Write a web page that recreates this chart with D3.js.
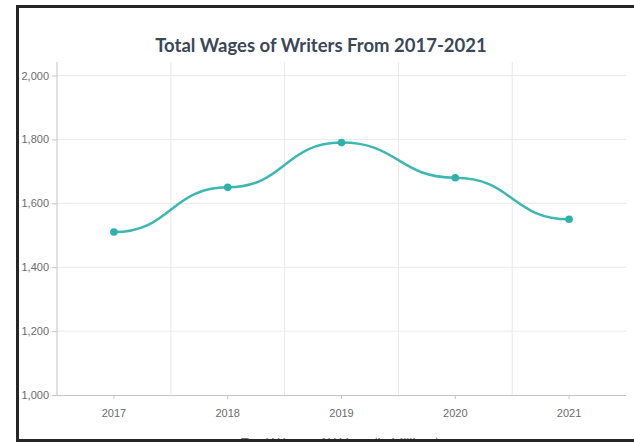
<!DOCTYPE html>
<html>
<head>
<meta charset="utf-8">
<script src="https://cdn.jsdelivr.net/npm/d3@7/dist/d3.min.js"></script>
<style>
  html, body { margin: 0; padding: 0; background: #fff; }
  svg { display: block; font-family: Lato, "Open Sans", sans-serif; }
</style>
</head>
<body>
<svg id="chart" width="634" height="442"></svg>
<script>
const years = ["2017", "2018", "2019", "2020", "2021"];
const wages = [1510, 1650, 1790, 1680, 1550];
const yTicks = [1000, 1200, 1400, 1600, 1800, 2000];
const chartTitle = "Total Wages of Writers From 2017-2021";
const xTitle = "Total Wages of Writers (in Millions)";

const svg = d3.select("#chart");
const W = 634, H = 442;
const pLeft = 57, pRight = 626, pTop = 62, pBottom = 395;

const x = d3.scaleBand().domain(years).range([pLeft, pRight]);
const y = d3.scaleLinear().domain([1000, 2000]).range([pBottom, 75.5]);

// grid
const grid = svg.append("g");
grid.selectAll("line.h").data(yTicks.slice(1)).join("line")
  .attr("x1", pLeft).attr("x2", pRight)
  .attr("y1", d => y(d)).attr("y2", d => y(d))
  .attr("stroke", "#e8e8e8").attr("stroke-width", 1);
grid.selectAll("line.v").data(years.slice(1)).join("line")
  .attr("x1", d => x(d)).attr("x2", d => x(d))
  .attr("y1", pTop).attr("y2", pBottom)
  .attr("stroke", "#e8e8e8").attr("stroke-width", 1);

// y axis
const yAxis = svg.append("g").attr("transform", `translate(${pLeft},0)`)
  .call(d3.axisLeft(y).tickValues(yTicks).tickSize(5).tickPadding(3).tickFormat(d3.format(",")));
yAxis.select(".domain").remove();
yAxis.append("line").attr("x1", 0).attr("x2", 0).attr("y1", pTop).attr("y2", pBottom)
  .attr("stroke", "#c4c4c4");
yAxis.selectAll(".tick line").attr("stroke", "#c4c4c4");
yAxis.selectAll(".tick text").attr("fill", "#6b6b6b").style("font-size", "11px");

// x axis
const xAxis = svg.append("g").attr("transform", `translate(0,${pBottom})`)
  .call(d3.axisBottom(x).tickSize(4).tickPadding(10));
xAxis.select(".domain").attr("stroke", "#c4c4c4").attr("d", `M${pLeft},0.5H${pRight}`);
xAxis.selectAll(".tick line").attr("stroke", "#c4c4c4");
xAxis.selectAll(".tick text").attr("fill", "#6b6b6b").style("font-size", "11px");

// line
const cx = d => x(d) + x.bandwidth() / 2;
const line = d3.line()
  .x((d, i) => cx(years[i]))
  .y(d => y(d))
  .curve(d3.curveBumpX);
svg.append("path").datum(wages)
  .attr("d", line)
  .attr("fill", "none")
  .attr("stroke", "#3db8b1")
  .attr("stroke-width", 2.5);
svg.selectAll("circle.pt").data(wages).join("circle")
  .attr("cx", (d, i) => cx(years[i]))
  .attr("cy", d => y(d))
  .attr("r", 3.8)
  .attr("fill", "#2fb0a8");

// title
svg.append("text").attr("x", 321).attr("y", 52)
  .attr("text-anchor", "middle")
  .attr("fill", "#3b4756")
  .style("font-size", "18.5px").style("font-weight", "bold")
  .text(chartTitle);

// x axis title (cut off by frame, as in the reference)
svg.append("text").attr("x", 340).attr("y", 448)
  .attr("text-anchor", "middle")
  .attr("fill", "#777")
  .style("font-size", "13px")
  .text(xTitle);

// frame
const frame = svg.append("g").attr("stroke", "#262626").attr("stroke-width", 3).attr("fill", "none");
frame.append("line").attr("x1", 16).attr("x2", W).attr("y1", 6.5).attr("y2", 6.5);
frame.append("line").attr("x1", 17.5).attr("x2", 17.5).attr("y1", 5).attr("y2", H);
frame.append("line").attr("x1", 16).attr("x2", W).attr("y1", 440.5).attr("y2", 440.5);
</script>
</body>
</html>
